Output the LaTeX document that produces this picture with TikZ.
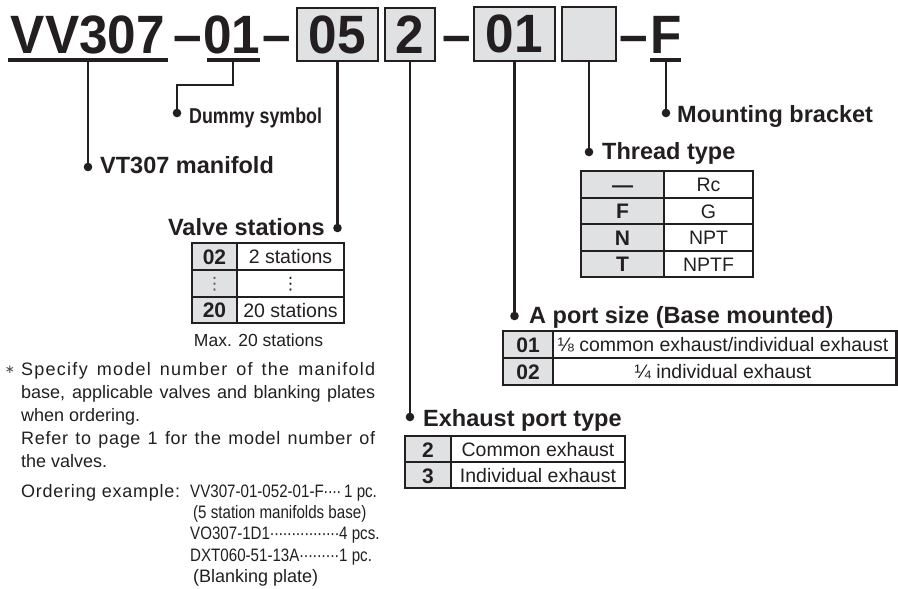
\documentclass[tikz,border=0pt]{standalone}
\usepackage{fontspec}
\setmainfont{Liberation Sans}
\newfontfamily\hdfont[FakeStretch=0.95]{Liberation Sans}
\newfontfamily\cdfont[FakeStretch=0.83]{Liberation Sans}
\newfontfamily\exfont[FakeStretch=0.84]{Liberation Sans}
\newfontfamily\dvfont{DejaVu Sans}
\definecolor{ink}{RGB}{35,31,32}
\definecolor{cellgray}{RGB}{224,225,227}
\newcommand\ldrbox[2]{\makebox[#1][l]{#2\xleaders\hbox to 4.3pt{\hss·\hss}\hfill}}
\tikzset{
  conn/.style={draw=ink, line width=2.6pt},
  uline/.style={draw=ink, line width=3.2pt},
  hbox/.style={draw=ink, fill=cellgray, line width=2.2pt, inner sep=0pt},
  htxt/.style={font=\hdfont\bfseries\fontsize{54}{54}\selectfont, text=ink, inner sep=0pt},
  hdash/.style={font=\hdfont\bfseries\fontsize{54}{54}\selectfont, text=ink, inner sep=0pt, anchor=base},
  lbl/.style={font=\bfseries\fontsize{23.5}{24}\selectfont, text=ink, inner sep=0pt},
  cellb/.style={font=\bfseries\fontsize{21}{21}\selectfont, text=ink, inner sep=0pt, anchor=base},
  cellr/.style={font=\fontsize{19.5}{20}\selectfont, text=ink, inner sep=0pt, anchor=base},
  note/.style={font=\fontsize{18}{20}\selectfont, text=ink, inner sep=0pt, anchor=base west},
  exnote/.style={font=\exfont\fontsize{18}{20}\selectfont, text=ink, inner sep=0pt, anchor=base west},
  tout/.style={draw=ink, line width=2.2pt},
  tin/.style={draw=ink, line width=1.4pt},
}
\begin{document}
\begin{tikzpicture}[x=1pt,y=-1pt]
\fill[white] (0,0) rectangle (898,589);
\useasboundingbox (0,0) rectangle (898,589);

% ---------- header ----------
\node[htxt,anchor=base] (hVV) at (88,53) {VV307};
\node[hdash] (d1) at (187.5,53) {–};
\node[htxt,anchor=base] (h01) at (232,53) {01};
\node[hdash] (d2) at (277,53) {–};
\node[hbox,htxt,minimum width=81,minimum height=53] (b05) at (337.5,34.5) {05};
\node[hbox,htxt,minimum width=50,minimum height=53] (b2) at (410,34.5) {2};
\node[hdash] (d3) at (456.5,53) {–};
\node[hbox,htxt,minimum width=81,minimum height=54] (b01) at (514.5,34) {01};
\node[hbox,minimum width=54,minimum height=54] (bE) at (589,34) {};
\node[hdash] (d4) at (634,53) {–};
\node[htxt,anchor=base] (hF) at (666,53) {F};

\draw[uline] (8,60) -- (168,60);
\draw[uline] (207,60) -- (260,60);
\draw[uline] (650,60) -- (681,60);
\coordinate (uVV) at (88,60);
\coordinate (u01) at (233,60);
\coordinate (uF) at (666,60);

% ---------- label points ----------
\coordinate (pVT) at (88,167);
\coordinate (pDS) at (177,113);
\coordinate (pVS) at (337.5,228);
\coordinate (pEX) at (410,417);
\coordinate (pAP) at (514.5,316);
\coordinate (pTT) at (589,152);
\coordinate (pMB) at (666,113);

\draw[conn] (uVV) -- (pVT);
\draw[conn] (u01) -- ++(0,25) -| (pDS);
\draw[conn] (b05.south) -- (pVS);
\draw[conn] (b2.south) -- (pEX);
\draw[conn] (b01.south) -- (pAP);
\draw[conn] (bE.south) -- (pTT);
\draw[conn] (uF) -- (pMB);
\foreach \p in {pVT,pDS,pVS,pEX,pAP,pTT,pMB} \fill[ink] (\p) circle (4.3);

\node[lbl,anchor=base west] (lVT) at (100,173) {VT307 manifold};
\node[lbl,font=\cdfont\bfseries\fontsize{21.5}{22}\selectfont,anchor=base west] (lDS) at (189,123) {Dummy symbol};
\node[lbl,anchor=base east] (lVS) at (325,235) {Valve stations};
\node[lbl,anchor=base west] (lEX) at (423,426) {Exhaust port type};
\node[lbl,anchor=base west] (lAP) at (529,323) {A port size (Base mounted)};
\node[lbl,anchor=base west] (lTT) at (602,159) {Thread type};
\node[lbl,anchor=base west] (lMB) at (677,122) {Mounting bracket};

% ---------- valve stations table ----------
\fill[cellgray] (192,243) rectangle (237,323);
\draw[tin] (192,270) -- (344,270) (192,297) -- (344,297) (237,243) -- (237,323);
\draw[tout] (192,243) rectangle (344,323);
\node[cellb] at (214.5,264) {02};
\node[cellr] at (290.5,263.5) {2 stations};
\node[font=\dvfont\fontsize{17}{17}\selectfont,text=ink!75,inner sep=0pt] at (214.5,284) {⋮};
\node[font=\dvfont\fontsize{17}{17}\selectfont,text=ink,inner sep=0pt] at (290.5,284) {⋮};
\node[cellb] at (214.5,317.5) {20};
\node[cellr] at (290.5,317) {20 stations};
\node[font=\fontsize{17.5}{18}\selectfont,text=ink,inner sep=0pt,anchor=base] (mx) at (258.5,346) {Max. 20 stations};

% ---------- thread type table ----------
\fill[cellgray] (581,171) rectangle (664,277);
\draw[tin] (581,198) -- (753,198) (581,224) -- (753,224) (581,251) -- (753,251) (664,171) -- (664,277);
\draw[tout] (581,171) rectangle (753,277);
\node[cellb] at (622.5,192) {—};
\node[cellb] at (622.5,218.5) {F};
\node[cellb] at (622.5,245) {N};
\node[cellb] at (622.5,271.5) {T};
\node[cellr] at (708.5,191.5) {Rc};
\node[cellr] at (708.5,218) {G};
\node[cellr] at (708.5,244.5) {NPT};
\node[cellr] at (708.5,271) {NPTF};

% ---------- A port size table ----------
\fill[cellgray] (503,331) rectangle (553,385);
\draw[tin] (503,358) -- (896.5,358) (553,331) -- (553,385);
\draw[tout] (503,331) rectangle (896.5,385);
\node[cellb] at (528,352) {01};
\node[cellb] at (528,379) {02};
\node[cellr] at (723,351.5) {⅛ common exhaust/individual exhaust};
\node[cellr] at (723,378.5) {¼ individual exhaust};

% ---------- exhaust port type table ----------
\fill[cellgray] (405,436) rectangle (451,488);
\draw[tin] (405,462) -- (625,462) (451,436) -- (451,488);
\draw[tout] (405,436) rectangle (625,488);
\node[cellb] at (428,457) {2};
\node[cellb] at (428,483) {3};
\node[cellr] at (538,456.5) {Common exhaust};
\node[cellr] at (538,482.5) {Individual exhaust};

% ---------- footnote ----------
\node[font=\dvfont\fontsize{12}{12}\selectfont,text=ink!80,inner sep=0pt] (ast) at (10,370) {∗};
\node[note] (n1) at (21,375) {\makebox[354pt][s]{\addfontfeature{LetterSpace=7}Specify model number of the manifold}};
\node[note] (n2) at (21,398) {\makebox[354pt][s]{base, applicable valves and blanking plates}};
\node[note] (n3) at (21,421) {when ordering.};
\node[note] (n4) at (21,444) {\makebox[354pt][s]{\addfontfeature{LetterSpace=4}Refer to page 1 for the model number of}};
\node[note] (n5) at (21,467) {the valves.};
\node[note] (n6) at (21,497) {\addfontfeature{LetterSpace=4}Ordering example:};
\node[exnote] (e1) at (190,497) {\ldrbox{151pt}{VV307-01-052-01-F}\,1 pc.};
\node[exnote] (e2) at (193,518) {(5 station manifolds base)};
\node[exnote] (e3) at (190,539.5) {\ldrbox{149pt}{VO307-1D1}4 pcs.};
\node[exnote] (e4) at (190,561) {\ldrbox{149pt}{DXT060-51-13A}1 pc.};
\node[note] (e5) at (193,582.5) {(Blanking plate)};
\end{tikzpicture}
\end{document}
